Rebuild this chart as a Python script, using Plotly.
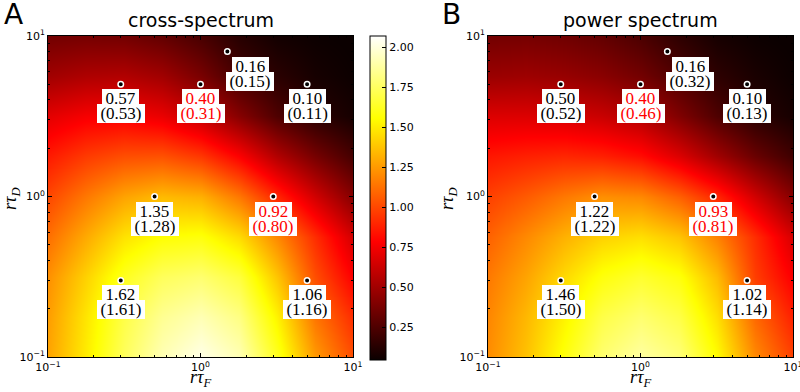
import numpy as np
import plotly.graph_objects as go

# ---------------- data ----------------
# heatmap sample grid (r*tau values, same for both axes)
grid_tau = [0.1, 0.178, 0.316, 0.562, 1.0, 1.78, 3.16, 5.62, 10.0]

# values; rows from r*tau_D = 0.1 (bottom) to 10 (top)
cross_map = [
    [1.28, 1.50, 1.74, 1.92, 2.02, 1.92, 1.62, 1.25, 1.02],
    [1.26, 1.48, 1.70, 1.85, 1.92, 1.82, 1.52, 1.14, 0.92],
    [1.22, 1.42, 1.62, 1.74, 1.78, 1.68, 1.38, 1.02, 0.78],
    [1.12, 1.30, 1.47, 1.56, 1.58, 1.45, 1.20, 0.92, 0.65],
    [1.00, 1.15, 1.28, 1.35, 1.32, 1.15, 0.90, 0.65, 0.42],
    [0.86, 0.96, 1.02, 1.03, 0.95, 0.78, 0.55, 0.37, 0.22],
    [0.70, 0.76, 0.77, 0.72, 0.60, 0.42, 0.25, 0.14, 0.08],
    [0.50, 0.54, 0.55, 0.50, 0.38, 0.22, 0.14, 0.08, 0.05],
    [0.36, 0.37, 0.36, 0.31, 0.23, 0.13, 0.07, 0.05, 0.04],
]
power_map = [
    [1.21, 1.37, 1.58, 1.78, 1.88, 1.80, 1.55, 1.20, 0.98],
    [1.19, 1.34, 1.52, 1.70, 1.78, 1.70, 1.46, 1.10, 0.88],
    [1.15, 1.28, 1.44, 1.58, 1.65, 1.58, 1.35, 0.97, 0.77],
    [1.08, 1.20, 1.32, 1.42, 1.46, 1.38, 1.18, 0.92, 0.66],
    [0.98, 1.06, 1.15, 1.22, 1.20, 1.08, 0.90, 0.65, 0.42],
    [0.85, 0.88, 0.90, 0.88, 0.82, 0.68, 0.50, 0.33, 0.20],
    [0.68, 0.68, 0.66, 0.62, 0.55, 0.40, 0.25, 0.14, 0.08],
    [0.48, 0.49, 0.47, 0.43, 0.36, 0.25, 0.15, 0.09, 0.05],
    [0.36, 0.37, 0.35, 0.31, 0.24, 0.15, 0.08, 0.05, 0.04],
]

# marked parameter points
tauF_pts = [0.3, 5, 0.5, 3, 0.3, 1, 5, 1.5]
tauD_pts = [0.3, 0.3, 1, 1, 5, 5, 5, 8]
cross_theory = ["1.62", "1.06", "1.35", "0.92", "0.57", "0.40", "0.10", "0.16"]
cross_sim = ["1.61", "1.16", "1.28", "0.80", "0.53", "0.31", "0.11", "0.15"]
power_theory = ["1.46", "1.02", "1.22", "0.93", "0.50", "0.40", "0.10", "0.16"]
power_sim = ["1.50", "1.14", "1.22", "0.81", "0.52", "0.46", "0.13", "0.32"]
label_colors = ["black", "black", "black", "red", "black", "red", "black", "black"]
label_xshift = [0, 0, 0, 0, 0, 0, 0, 23]

major_ticks = [0.1, 1, 10]
major_text = ["10<sup>\u22121</sup>", "10<sup>0</sup>", "10<sup>1</sup>"]
minor_ticks = [0.2, 0.3, 0.4, 0.5, 0.6, 0.7, 0.8, 0.9, 2, 3, 4, 5, 6, 7, 8, 9]
cbar_ticks = [0.25, 0.5, 0.75, 1.0, 1.25, 1.5, 1.75, 2.0]
cbar_text = ["0.25", "0.50", "0.75", "1.00", "1.25", "1.50", "1.75", "2.00"]
zmin, zmax = 0.046, 2.07

panel_titles = ["cross-spectrum", "power spectrum"]
panel_letters = ["A", "B"]

# ---------------- figure ----------------
W, H = 800, 392
hot = [[0.0, "rgb(11,0,0)"], [0.365079, "rgb(255,0,0)"],
       [0.746032, "rgb(255,255,0)"], [1.0, "rgb(255,255,255)"]]

fig = go.Figure()

panels = [
    dict(xa="x", ya="y", z=cross_map, th=cross_theory, sim=cross_sim,
         dom=[48 / W, 353 / W]),
    dict(xa="x2", ya="y2", z=power_map, th=power_theory, sim=power_sim,
         dom=[488 / W, 793 / W]),
]
ydom = [1 - 357 / H, 1 - 36 / H]

annotations = []
for k, p in enumerate(panels):
    fig.add_trace(go.Heatmap(x=grid_tau, y=grid_tau, z=p["z"], zsmooth="best",
                             coloraxis="coloraxis", xaxis=p["xa"], yaxis=p["ya"],
                             hoverinfo="skip"))
    fig.add_trace(go.Scatter(x=tauF_pts, y=tauD_pts, mode="markers",
                             xaxis=p["xa"], yaxis=p["ya"], hoverinfo="skip",
                             marker=dict(size=5.5, color="black",
                                         line=dict(color="white", width=1.5))))
    xr = p["xa"]
    yr = p["ya"]
    for i in range(len(tauF_pts)):
        lx = float(np.log10(tauF_pts[i]))
        ly = float(np.log10(tauD_pts[i]))
        for txt, ysh in ((p["th"][i], -5.0), ("(" + p["sim"][i] + ")", -20.0)):
            annotations.append(dict(
                x=lx, y=ly, xref=xr, yref=yr, showarrow=False,
                text="\u2009" + txt + "\u2009", xanchor="center", yanchor="top",
                xshift=label_xshift[i], yshift=ysh,
                bgcolor="white", borderpad=0, borderwidth=0,
                font=dict(family="Liberation Serif", size=17, color=label_colors[i])))
    cx = (p["dom"][0] + p["dom"][1]) / 2
    # panel title
    annotations.append(dict(x=cx, y=1 - 20 / H, xref="paper", yref="paper",
                            text=panel_titles[k], showarrow=False,
                            xanchor="center", yanchor="middle",
                            font=dict(family="DejaVu Sans", size=19, color="black")))
    # panel letter
    annotations.append(dict(x=(2 + 438 * k) / W, y=1 - 15 / H, xref="paper", yref="paper",
                            text=panel_letters[k], showarrow=False,
                            xanchor="left", yanchor="middle",
                            font=dict(family="DejaVu Sans", size=28, color="black")))
    # axis titles
    annotations.append(dict(x=cx, y=1 - 378 / H, xref="paper", yref="paper",
                            text="<i>r\u03c4</i><sub><i>F</i></sub>", showarrow=False,
                            xanchor="center", yanchor="middle",
                            font=dict(family="Liberation Serif", size=18, color="black")))
    annotations.append(dict(x=(11 + 437 * k) / W, y=1 - 199 / H, xref="paper", yref="paper",
                            text="<i>r\u03c4</i><sub><i>D</i></sub>", showarrow=False,
                            textangle=-90, xanchor="center", yanchor="middle",
                            font=dict(family="Liberation Serif", size=18, color="black")))

axis_common = dict(
    type="log", range=[-1, 1], showline=True, linecolor="black", linewidth=1,
    mirror="ticks", ticks="inside", ticklen=4, tickwidth=1, tickcolor="black",
    tickmode="array", tickvals=major_ticks, ticktext=major_text,
    tickfont=dict(family="DejaVu Sans", size=11, color="black"),
    ticklabeloverflow="allow",
    showgrid=False, zeroline=False, automargin=False,
    minor=dict(tickmode="array", tickvals=minor_ticks, ticks="inside", ticklen=2,
               tickwidth=1, tickcolor="black", showgrid=False),
)

fig.update_layout(
    width=W, height=H, margin=dict(l=0, r=0, t=0, b=0, autoexpand=False),
    paper_bgcolor="white", plot_bgcolor="white", showlegend=False,
    xaxis=dict(domain=panels[0]["dom"], anchor="y", **axis_common),
    yaxis=dict(domain=ydom, anchor="x", **axis_common),
    xaxis2=dict(domain=panels[1]["dom"], anchor="y2", **axis_common),
    yaxis2=dict(domain=ydom, anchor="x2", **axis_common),
    coloraxis=dict(
        colorscale=hot, cmin=zmin, cmax=zmax,
        colorbar=dict(
            x=370 / W, xanchor="left", y=1 - 360 / H, yanchor="bottom",
            len=324 / H, lenmode="fraction", thickness=16, thicknessmode="pixels",
            xpad=0, ypad=0, outlinewidth=1, outlinecolor="black",
            ticks="inside", ticklen=4, tickcolor="black",
            tickmode="array", tickvals=cbar_ticks, ticktext=cbar_text,
            tickfont=dict(family="DejaVu Sans", size=11, color="black"),
        ),
    ),
    annotations=annotations,
)

fig.write_html("out.html", config={"displayModeBar": False},
               post_script="document.body.style.margin='0px';document.body.style.overflow='hidden';")
